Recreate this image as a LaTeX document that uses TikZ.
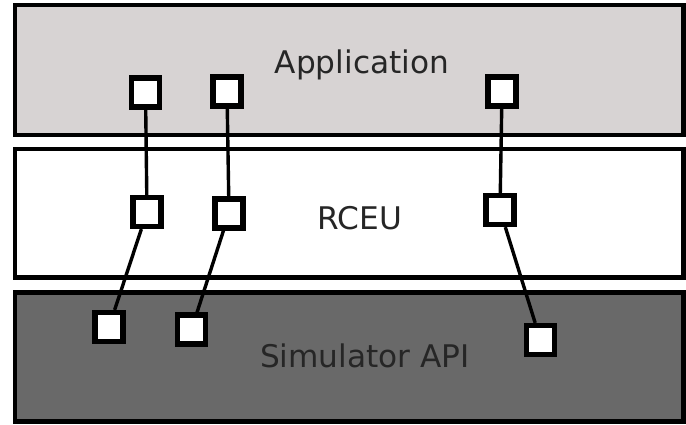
\documentclass[tikz,border=0pt]{standalone}
\usepackage{fontspec}
\setmainfont{DejaVu Sans}
\usepackage{xcolor}
\usepackage{tikz}
\usetikzlibrary{positioning}
\definecolor{appgray}{RGB}{215,211,211}
\definecolor{simgray}{RGB}{105,105,105}
\tikzstyle{layer} = [rectangle, minimum width=334.25pt, draw=black, line width=2.4pt, inner sep=0pt]
\tikzstyle{port} = [rectangle, minimum width=14pt, minimum height=14.5pt, inner sep=0pt, draw=black, line width=2.6pt, fill=white]
\tikzstyle{link} = [line width=1.7pt, draw=black]
\tikzstyle{caption} = [anchor=base, text=black!85, font=\fontsize{15.6}{18}\selectfont]

\begin{document}
\begin{tikzpicture}[x=0.5pt, y=-0.5pt]
    \useasboundingbox (0,0) rectangle (686,424);
    % Layers
    \node (app) [layer, minimum height=65pt, fill=appgray] at (349.25,70) {};
    \node (rceu) [layer, minimum height=64.25pt, fill=white] at (349.25,213.25) {};
    \node (simapi) [layer, minimum height=64.5pt, fill=simgray] at (349.25,357) {};
    \node (applabel) [caption] at (362,73) {Application};
    \node (rceulabel) [caption] at (360,229) {RCEU};
    \node (simlabel) [caption] at (365,367) {Simulator API};
    
    % Ports
    \node (ap1) [port] at (145.5,92.5) {};
    \node (ap2) [port] at (227,91.5) {};
    \node (ap3) [port] at (502,91.5) {};
    \node (rp1) [port] at (147,212) {};
    \node (rp2) [port] at (229,213.5) {};
    \node (rp3) [port] at (500,210) {};
    \node (sp1) [port] at (109,327) {};
    \node (sp2) [port] at (191.5,329.5) {};
    \node (sp3) [port] at (540.5,340) {};
    
    % Links
    \draw [link] (ap1) -- (rp1);
    \draw [link] (ap2) -- (rp2);
    \draw [link] (ap3) -- (rp3);
    \draw [link] (rp1) -- (sp1);
    \draw [link] (rp2) -- (sp2);
    \draw [link] (rp3) -- (sp3);
\end{tikzpicture}
\end{document}
